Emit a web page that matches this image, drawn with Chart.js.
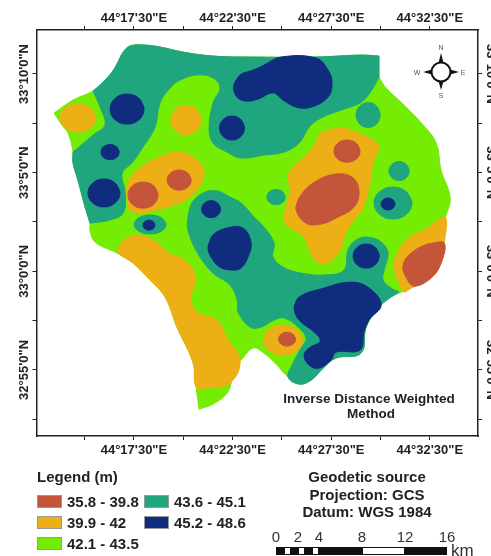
<!DOCTYPE html>
<html>
<head>
<meta charset="utf-8">
<title>Inverse Distance Weighted Method</title>
<script src="https://cdn.jsdelivr.net/npm/chart.js@4/dist/chart.umd.min.js"></script>
<style>
html, body { margin: 0; padding: 0; background: #fff; }
#wrap { position: relative; width: 491px; height: 556px; overflow: hidden; font-family: "Liberation Sans", Arial, sans-serif; color: #222; }
#wrap canvas { position: absolute; left: 0; top: 0; }
.txt { position: absolute; font-weight: bold; white-space: nowrap; line-height: 18px; }
.ctr { transform: translateX(-50%); }
.sw { position: absolute; width: 25px; height: 13px; box-sizing: border-box; border: 1px solid #999; }
.lg { font-size: 15px; }
.num { position: absolute; font-size: 15px; line-height: 18px; color: #333; transform: translateX(-50%); }
</style>
</head>
<body>
<div id="wrap">
    <canvas id="myChart" width="491" height="556"></canvas>
    <div id="extras"></div>
    <svg style="position:absolute;left:405px;top:36px" width="70" height="70" viewBox="405 36 70 70">
        <g fill="#111">
            <polygon points="441,53 438.5,63 443.5,63"/>
            <polygon points="441,90 438.5,81 443.5,81"/>
            <polygon points="423,72 432,69.5 432,74.5"/>
            <polygon points="459,72 450,69.5 450,74.5"/>
        </g>
        <circle cx="441" cy="72" r="9.5" fill="#fff" stroke="#111" stroke-width="2"/>
        <g font-family="Liberation Sans, Arial, sans-serif" font-size="7" fill="#555" text-anchor="middle">
            <text x="441" y="50">N</text>
            <text x="441" y="98">S</text>
            <text x="417" y="74.5">W</text>
            <text x="463" y="74.5">E</text>
        </g>
    </svg>
</div>
<script>
// longitude = minutes past 44 deg, latitude = minutes from 33 deg
const xTickValues = [15, 17.5, 20, 22.5, 25, 27.5, 30, 32.5];
const xTickLabels = ["", "44°17'30\"E", "", "44°22'30\"E", "", "44°27'30\"E", "", "44°32'30\"E"];
const yTickValues = [10, 7.5, 5, 2.5, 0, -2.5, -5, -7.5];
const yTickLabels = ["33°10'0\"N", "", "33°5'0\"N", "", "33°0'0\"N", "", "32°55'0\"N", ""];

const legendLabels = ["35.8 - 39.8", "39.9 - 42", "42.1 - 43.5", "43.6 - 45.1", "45.2 - 48.6"];
const classColors = ["#c4553a", "#edaf16", "#74ec04", "#1fa67e", "#0f2c7f"];
const scaleLabels = [0, 2, 4, 8, 12, 16];

// a repeated point keeps a sharp corner in the smoothed outline
const regionOutline = [[17.30,11.42],[16.95,11.11],[16.69,10.61],[16.39,10.10],[15.88,9.54],[15.43,9.14],[14.41,8.68],[13.45,8.02],[13.45,8.02],[13.85,7.41],[14.16,7.00],[14.41,6.04],[14.41,5.49],[14.66,4.62],[15.02,3.26],[15.27,2.44],[15.27,2.09],[15.53,1.48],[16.64,0.92],[17.45,0.42],[18.32,-0.45],[19.08,-1.31],[19.68,-2.83],[20.50,-4.65],[20.65,-5.87],[20.80,-6.99],[20.80,-6.99],[21.51,-6.73],[22.22,-6.18],[22.47,-5.52],[22.73,-4.65],[22.93,-4.50],[23.54,-3.89],[24.09,-4.15],[24.60,-4.60],[25.31,-5.36],[25.87,-5.72],[26.48,-5.52],[27.09,-4.91],[27.74,-4.40],[29.01,-4.15],[29.27,-2.83],[29.87,-1.87],[30.53,-1.31],[31.55,-0.85],[32.56,-0.34],[33.07,0.42],[33.22,1.33],[33.27,2.60],[33.53,3.71],[33.07,5.13],[32.82,6.50],[32.16,7.41],[31.19,8.43],[30.28,9.29],[29.92,9.85],[29.92,9.85],[29.92,10.91],[29.92,10.91],[29.01,10.96],[26.73,10.86],[23.39,10.86],[21.51,10.91],[19.99,11.11],[18.82,11.37],[17.96,11.47]];

const tealNorth = [[15.43,9.14],[15.43,9.14],[15.88,9.54],[16.39,10.10],[16.69,10.61],[16.95,11.11],[17.30,11.42],[17.96,11.47],[18.82,11.37],[19.99,11.11],[21.51,10.91],[23.39,10.86],[26.73,10.86],[29.01,10.96],[29.92,10.91],[29.92,10.91],[29.92,9.85],[29.92,9.85],[29.62,9.29],[29.16,8.68],[28.76,8.43],[28.00,8.17],[26.98,7.77],[26.38,7.31],[25.87,6.50],[25.11,6.04],[24.09,5.89],[22.93,5.74],[22.22,6.04],[21.51,6.50],[21.31,7.26],[21.51,8.53],[21.86,9.29],[21.51,9.80],[20.70,9.95],[19.84,9.69],[19.33,9.29],[18.82,8.53],[18.57,7.31],[17.96,6.30],[17.40,5.49],[16.90,4.98],[17.05,3.97],[16.95,2.95],[16.29,2.60],[15.27,2.44],[15.27,2.44],[15.02,3.26],[14.66,4.62],[14.41,5.49],[14.41,6.04],[14.41,6.04],[15.43,6.91],[16.03,7.41],[15.78,8.33]];
const tealSouth = [[20.24,2.75],[20.44,3.46],[21.00,3.97],[21.71,4.07],[22.37,3.76],[22.93,3.46],[23.59,2.75],[24.09,2.24],[24.60,1.43],[24.55,0.72],[25.06,0.21],[25.97,-0.09],[27.14,-0.19],[28.15,0.06],[28.35,1.08],[28.76,1.58],[29.37,1.73],[30.03,1.48],[30.38,0.92],[30.18,0.06],[30.13,-0.45],[30.53,-0.85],[30.94,-1.05],[30.94,-1.05],[30.53,-1.31],[29.87,-1.87],[29.27,-2.83],[29.01,-4.15],[27.74,-4.40],[27.09,-4.91],[26.48,-5.52],[25.87,-5.72],[25.31,-5.36],[25.57,-4.65],[25.97,-3.89],[26.22,-3.39],[25.82,-2.83],[25.11,-2.37],[24.60,-2.47],[23.94,-2.83],[23.39,-2.83],[22.78,-2.07],[22.73,-1.46],[22.37,-0.70],[21.51,-0.09],[20.70,0.97],[20.24,2.09]];
const tealNotch = [[29.98,7.92],[29.80,8.37],[29.37,8.55],[28.94,8.37],[28.76,7.92],[28.94,7.47],[29.37,7.29],[29.80,7.47]];
const tealEast = [[31.45,5.08],[31.30,5.42],[30.94,5.56],[30.58,5.42],[30.43,5.08],[30.58,4.74],[30.94,4.60],[31.30,4.74]];
const tealMiddle = [[25.16,3.76],[25.03,4.03],[24.70,4.14],[24.37,4.03],[24.24,3.76],[24.37,3.49],[24.70,3.38],[25.03,3.49]];
const tealRingEast = [[31.59,3.46],[31.31,4.03],[30.63,4.27],[29.95,4.03],[29.67,3.46],[29.95,2.89],[30.63,2.65],[31.31,2.89]];
const tealRingWest = [[19.13,2.37],[18.89,2.71],[18.32,2.85],[17.75,2.71],[17.51,2.37],[17.75,2.03],[18.32,1.89],[18.89,2.03]];

const orangeNorthWest = [[15.57,7.77],[15.30,8.27],[14.66,8.48],[14.02,8.27],[13.75,7.77],[14.02,7.27],[14.66,7.06],[15.30,7.27]];
const orangeNorth = [[20.90,7.67],[20.68,8.19],[20.14,8.41],[19.60,8.19],[19.38,7.67],[19.60,7.15],[20.14,6.93],[20.68,7.15]];
const orangeWest = [[17.15,3.76],[17.20,4.52],[17.81,5.23],[18.82,5.79],[19.84,6.04],[20.70,5.64],[21.05,5.03],[20.85,4.37],[20.09,3.61],[18.97,3.20],[17.81,2.95],[17.30,3.10]];
const orangeCentre = [[27.39,7.16],[28.00,7.26],[28.86,7.00],[29.87,6.40],[29.62,5.49],[29.42,4.27],[29.06,3.10],[28.66,2.60],[28.25,1.99],[27.90,0.97],[27.14,0.37],[26.58,0.72],[26.12,1.73],[25.46,2.19],[25.11,2.60],[25.41,4.12],[25.36,4.98],[26.48,6.14],[26.98,7.00]];
const orangeSouthWest = [[16.69,0.97],[16.90,1.48],[17.66,1.84],[18.47,1.58],[19.18,0.97],[20.19,0.47],[20.60,-0.34],[20.39,-1.46],[20.75,-2.12],[21.71,-2.47],[22.22,-3.39],[22.88,-4.50],[22.37,-5.67],[21.20,-5.92],[20.65,-5.87],[20.50,-4.65],[19.68,-2.83],[19.08,-1.31],[18.32,-0.45],[17.45,0.42]];
const orangeEast = [[33.27,2.75],[32.41,2.19],[31.40,1.68],[30.89,0.97],[30.69,0.21],[30.94,-0.60],[31.19,-1.05],[31.55,-0.85],[32.56,-0.34],[33.07,0.42],[33.22,1.33]];
const orangeSouth = [[26.05,-3.49],[25.76,-2.95],[25.06,-2.73],[24.36,-2.95],[24.07,-3.49],[24.36,-4.03],[25.06,-4.25],[25.76,-4.03]];

const redWestA = [[18.72,3.86],[18.50,4.33],[17.96,4.52],[17.42,4.33],[17.20,3.86],[17.42,3.39],[17.96,3.20],[18.50,3.39]];
const redWestB = [[20.40,4.62],[20.22,4.98],[19.79,5.13],[19.36,4.98],[19.18,4.62],[19.36,4.26],[19.79,4.11],[20.22,4.26]];
const redCentreTop = [[28.96,6.09],[28.77,6.49],[28.30,6.65],[27.83,6.49],[27.64,6.09],[27.83,5.69],[28.30,5.53],[28.77,5.69]];
const redCentre = [[25.72,3.10],[25.87,3.71],[26.58,4.47],[27.74,4.93],[28.61,4.73],[28.91,4.02],[28.66,3.26],[27.85,2.75],[26.98,2.39],[26.22,2.44]];
const redEast = [[33.22,1.43],[32.41,1.38],[31.55,0.92],[31.14,0.31],[31.29,-0.29],[31.70,-0.75],[32.56,-0.34],[33.07,0.42]];
const redSouth = [[25.69,-3.44],[25.56,-3.19],[25.26,-3.09],[24.96,-3.19],[24.83,-3.44],[24.96,-3.69],[25.26,-3.79],[25.56,-3.69]];

const navyNorthWest = [[18.01,8.22],[17.76,8.76],[17.15,8.98],[16.54,8.76],[16.29,8.22],[16.54,7.68],[17.15,7.46],[17.76,7.68]];
const navyWestSmall = [[16.75,6.04],[16.62,6.31],[16.29,6.42],[15.96,6.31],[15.83,6.04],[15.96,5.77],[16.29,5.66],[16.62,5.77]];
const navyWest = [[16.79,3.97],[16.55,4.47],[15.98,4.68],[15.41,4.47],[15.17,3.97],[15.41,3.47],[15.98,3.26],[16.55,3.47]];
const navyMiddleSmall = [[21.89,3.15],[21.75,3.45],[21.41,3.58],[21.07,3.45],[20.93,3.15],[21.07,2.85],[21.41,2.72],[21.75,2.85]];
const navyNorthSmall = [[23.10,7.26],[22.92,7.69],[22.47,7.87],[22.02,7.69],[21.84,7.26],[22.02,6.83],[22.47,6.65],[22.92,6.83]];
const navyNorth = [[22.57,9.44],[22.88,9.95],[23.39,10.15],[23.79,10.30],[24.09,10.45],[24.96,10.86],[26.73,10.81],[27.34,10.20],[27.54,9.54],[27.34,8.83],[26.48,8.32],[25.72,8.32],[25.06,8.68],[24.55,9.04],[23.79,8.73],[23.13,8.63],[22.68,8.88]];
const navyCentre = [[21.26,1.23],[21.51,1.84],[22.22,2.19],[23.03,2.19],[23.44,1.43],[23.28,0.72],[22.93,0.16],[22.52,0.06],[21.86,0.21],[21.41,0.72]];
const navyEastSmall = [[29.93,0.77],[29.74,1.20],[29.27,1.38],[28.80,1.20],[28.61,0.77],[28.80,0.34],[29.27,0.16],[29.74,0.34]];
const navySouth = [[25.62,-1.87],[25.87,-1.31],[27.14,-0.85],[28.50,-0.55],[29.42,-0.85],[30.03,-1.71],[29.42,-2.47],[29.16,-3.08],[28.96,-3.99],[27.74,-4.10],[27.49,-4.50],[26.88,-4.91],[26.38,-4.76],[26.12,-4.25],[26.38,-3.89],[26.94,-3.54],[26.63,-3.08],[25.87,-2.47]];
const navyRingEast = [[30.73,3.41],[30.63,3.62],[30.38,3.71],[30.13,3.62],[30.03,3.41],[30.13,3.20],[30.38,3.11],[30.63,3.20]];
const navyRingWest = [[18.56,2.34],[18.47,2.52],[18.26,2.59],[18.05,2.52],[17.96,2.34],[18.05,2.16],[18.26,2.09],[18.47,2.16]];

// [class index, outline], bottom layer first
const layers = [
    [2, regionOutline],
    [3, tealNorth], [3, tealSouth], [3, tealNotch], [3, tealEast], [3, tealMiddle], [3, tealRingEast], [3, tealRingWest],
    [1, orangeNorthWest], [1, orangeNorth], [1, orangeWest], [1, orangeCentre], [1, orangeSouthWest], [1, orangeEast], [1, orangeSouth],
    [0, redWestA], [0, redWestB], [0, redCentreTop], [0, redCentre], [0, redEast], [0, redSouth],
    [4, navyNorthWest], [4, navyWestSmall], [4, navyWest], [4, navyMiddleSmall], [4, navyNorthSmall], [4, navyNorth], [4, navyCentre], [4, navyEastSmall], [4, navySouth], [4, navyRingEast], [4, navyRingWest]
];

let datasets = layers.map(function (layer, i) {
    let pts = layer[1].concat(layer[1].slice(0, 2)); // wrap so the closing join stays smooth
    return {
        label: legendLabels[layer[0]],
        data: pts.map(function (p) { return { x: p[0], y: p[1] }; }),
        showLine: true,
        fill: 'shape',
        tension: 0.4,
        pointRadius: 0,
        borderWidth: 1,
        borderColor: classColors[layer[0]],
        backgroundColor: classColors[layer[0]],
        order: layers.length - i
    };
});

const xRange = { min: 12.56, max: 34.94 };
const yRange = { min: -8.35, max: 12.23 };

function fixBox(prop, size) {
    return function (scale) {
        scale[prop] = size;
        scale.paddingLeft = scale.paddingRight = scale.paddingTop = scale.paddingBottom = 0;
    };
}

function axisCommon(values, labels) {
    return {
        type: 'linear',
        border: { display: true, color: '#222', width: 1.5 },
        grid: { display: true, drawOnChartArea: false, drawTicks: true, tickLength: 4, color: '#222', lineWidth: 1 },
        afterBuildTicks: function (scale) {
            scale.ticks = values.map(function (v) { return { value: v }; });
        },
        ticks: {
            autoSkip: false,
            color: '#222',
            font: { family: '"Liberation Sans", Arial, sans-serif', size: 13, weight: 'bold' },
            callback: function (v) { return labels[values.indexOf(v)]; }
        }
    };
}

function xAxis(position, height, padding) {
    let a = axisCommon(xTickValues, xTickLabels);
    a.position = position;
    a.min = xRange.min;
    a.max = xRange.max;
    a.afterFit = fixBox('height', height);
    a.ticks.maxRotation = 0;
    a.ticks.minRotation = 0;
    a.ticks.padding = padding;
    return a;
}

function yAxis(position, width, rotation, padding) {
    let a = axisCommon(yTickValues, yTickLabels);
    a.position = position;
    a.min = yRange.min;
    a.max = yRange.max;
    a.afterFit = fixBox('width', width);
    a.ticks.minRotation = rotation;
    a.ticks.maxRotation = rotation;
    a.ticks.crossAlign = 'center';
    a.ticks.padding = padding;
    return a;
}

let ctx = document.getElementById('myChart').getContext('2d');
let chart = new Chart(ctx, {
    type: 'scatter',
    data: { datasets: datasets },
    options: {
        responsive: false,
        animation: false,
        layout: { padding: 0 },
        plugins: {
            legend: { display: false },
            tooltip: { enabled: false },
            title: { display: false }
        },
        scales: {
            x: xAxis('bottom', 120, 3),
            xTop: xAxis('top', 30, 0),
            y: yAxis('left', 36.5, 90, -22),
            yRight: yAxis('right', 13, -90, -21)
        }
    }
});

// legend, notes and scale bar under the map
let html = '';
function addText(str, x, y, size, centred) {
    html += '<div class="txt' + (centred ? ' ctr' : '') + '" style="left:' + x + 'px;top:' + (y - 9) + 'px;font-size:' + size + 'px">' + str + '</div>';
}
addText('Inverse Distance Weighted', 369, 399, 13.5, true);
addText('Method', 371, 414, 13.5, true);
addText('Legend (m)', 37, 477, 15, false);
addText('Geodetic source', 367, 477, 15, true);
addText('Projection: GCS', 367, 495, 15, true);
addText('Datum: WGS 1984', 367, 512, 15, true);

const legendSpots = [[37, 495], [37, 516], [37, 537], [144, 495], [144, 516]];
legendLabels.forEach(function (label, i) {
    let s = legendSpots[i];
    html += '<div class="sw" style="left:' + s[0] + 'px;top:' + s[1] + 'px;background:' + classColors[i] + '"></div>';
    addText(label, s[0] + 30, s[1] + 7, 15, false);
});

const scaleSpots = [276, 298, 319, 362, 405, 447];
scaleLabels.forEach(function (v, i) {
    html += '<div class="num" style="left:' + scaleSpots[i] + 'px;top:528px">' + v + '</div>';
});
const barStops = [276, 284, 291, 298, 305, 312, 319, 362, 405, 447];
for (let i = 0; i < barStops.length - 1; i++) {
    html += '<div style="position:absolute;box-sizing:border-box;border:1px solid #111;left:' + barStops[i] + 'px;top:547px;width:' + (barStops[i + 1] - barStops[i]) + 'px;height:8px;background:' + (i % 2 ? '#fff' : '#111') + '"></div>';
}
html += '<div style="position:absolute;left:451px;top:542px;font-size:17px;line-height:17px;color:#333">km</div>';
document.getElementById('extras').innerHTML = html;
</script>
</body>
</html>
